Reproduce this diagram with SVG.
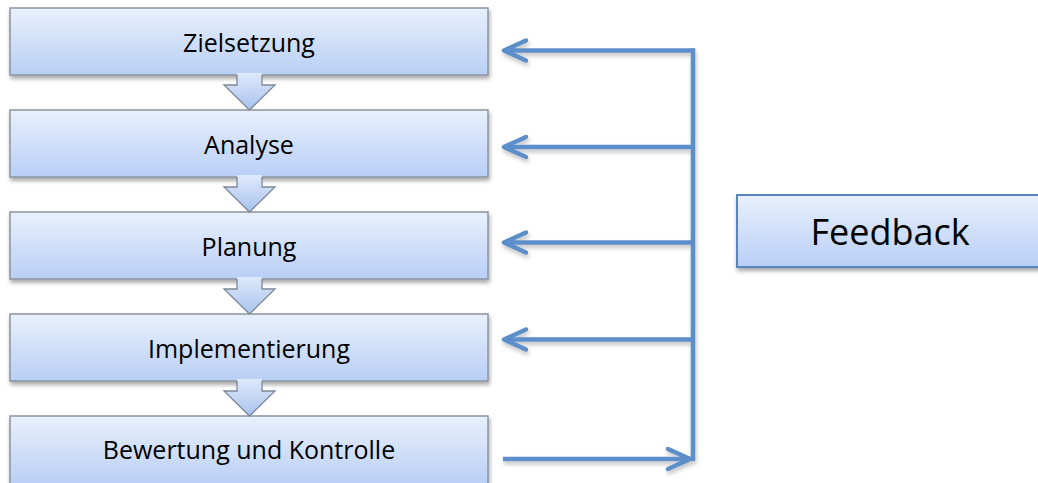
<svg xmlns="http://www.w3.org/2000/svg" width="1038" height="483" viewBox="0 0 1038 483">
  <defs>
    <linearGradient id="boxFill" x1="0" y1="0" x2="0" y2="1">
      <stop offset="0" stop-color="#e9f0fd"/>
      <stop offset="1" stop-color="#b8cff5"/>
    </linearGradient>
    <linearGradient id="stepFill" x1="0" y1="0" x2="0" y2="1">
      <stop offset="0" stop-color="#dfe9fb"/>
      <stop offset="1" stop-color="#a8c3ee"/>
    </linearGradient>
    <filter id="shadow" x="-5%" y="-20%" width="110%" height="150%">
      <feDropShadow dx="1" dy="3" stdDeviation="2" flood-color="#000" flood-opacity="0.35"/>
    </filter>
    <filter id="lineShadow" x="-10%" y="-10%" width="120%" height="120%">
      <feDropShadow dx="1" dy="3" stdDeviation="2" flood-color="#000" flood-opacity="0.25"/>
    </filter>
    <marker id="chev" markerUnits="userSpaceOnUse" viewBox="-26 -14 30 28" refX="0" refY="0" markerWidth="30" markerHeight="28" orient="auto">
      <path d="M-22,-10 L0,0 L-22,10" fill="none" stroke="#5b8ec9" stroke-width="4.5" stroke-linecap="round" stroke-linejoin="round"/>
    </marker>
  </defs>
  <style>
    .box { fill: url(#boxFill); stroke: #8b949e; stroke-width: 1.5; filter: url(#shadow); }
    .fbox { fill: url(#boxFill); stroke: #5a86bf; stroke-width: 2; filter: url(#shadow); }
    .label { font-family: "Open Sans", "Liberation Sans", sans-serif; font-size: 25px; fill: #000; text-anchor: middle; }
    .flabel { font-family: "Open Sans", "Liberation Sans", sans-serif; font-size: 36px; fill: #000; text-anchor: middle; }
    .stepFill { fill: url(#stepFill); stroke: none; }
    .stepEdge { fill: none; stroke: #7d8794; stroke-width: 1.3; stroke-linejoin: miter; }
    .link { fill: none; stroke: #5b8ec9; stroke-width: 4.5; }
  </style>

  <!-- process steps -->
  <g id="zielsetzung">
    <rect class="box" x="10" y="8" width="478" height="67"/>
    <text class="label" x="249" y="52">Zielsetzung</text>
  </g>
  <g id="analyse">
    <rect class="box" x="10" y="110" width="478" height="67"/>
    <text class="label" x="249" y="154">Analyse</text>
  </g>
  <g id="planung">
    <rect class="box" x="10" y="212" width="478" height="67"/>
    <text class="label" x="249" y="256">Planung</text>
  </g>
  <g id="implementierung">
    <rect class="box" x="10" y="314" width="478" height="67"/>
    <text class="label" x="249" y="358">Implementierung</text>
  </g>
  <g id="bewertung">
    <rect class="box" x="10" y="416" width="478" height="70"/>
    <text class="label" x="249" y="459">Bewertung und Kontrolle</text>
  </g>

  <!-- feedback node -->
  <g id="feedback">
    <rect class="fbox" x="737" y="195" width="320" height="72"/>
    <text class="flabel" x="890" y="245">Feedback</text>
  </g>

  <g id="connectors">
    <!-- block arrows between successive steps -->
    <g id="step-arrows">
      <g transform="translate(0,0)">
        <polygon class="stepFill" points="237,73 262,73 262,85 275,85 249.5,110 224,85 237,85"/>
        <polyline class="stepEdge" points="237,75 237,85 224,85 249.5,110 275,85 262,85 262,75"/>
      </g>
      <g transform="translate(0,102)">
        <polygon class="stepFill" points="237,73 262,73 262,85 275,85 249.5,110 224,85 237,85"/>
        <polyline class="stepEdge" points="237,75 237,85 224,85 249.5,110 275,85 262,85 262,75"/>
      </g>
      <g transform="translate(0,204)">
        <polygon class="stepFill" points="237,73 262,73 262,85 275,85 249.5,110 224,85 237,85"/>
        <polyline class="stepEdge" points="237,75 237,85 224,85 249.5,110 275,85 262,85 262,75"/>
      </g>
      <g transform="translate(0,306)">
        <polygon class="stepFill" points="237,73 262,73 262,85 275,85 249.5,110 224,85 237,85"/>
        <polyline class="stepEdge" points="237,75 237,85 224,85 249.5,110 275,85 262,85 262,75"/>
      </g>
    </g>

    <!-- feedback loop -->
    <g id="feedback-loop" filter="url(#lineShadow)">
      <line class="link" x1="693" y1="48.5" x2="693" y2="461"/>
      <line class="link" x1="695" y1="50.5" x2="504" y2="50.5" marker-end="url(#chev)"/>
      <line class="link" x1="693" y1="147" x2="504" y2="147" marker-end="url(#chev)"/>
      <line class="link" x1="693" y1="242.5" x2="504" y2="242.5" marker-end="url(#chev)"/>
      <line class="link" x1="693" y1="339.5" x2="504" y2="339.5" marker-end="url(#chev)"/>
      <line class="link" x1="503" y1="459" x2="690" y2="459" marker-end="url(#chev)"/>
    </g>
  </g>
</svg>
